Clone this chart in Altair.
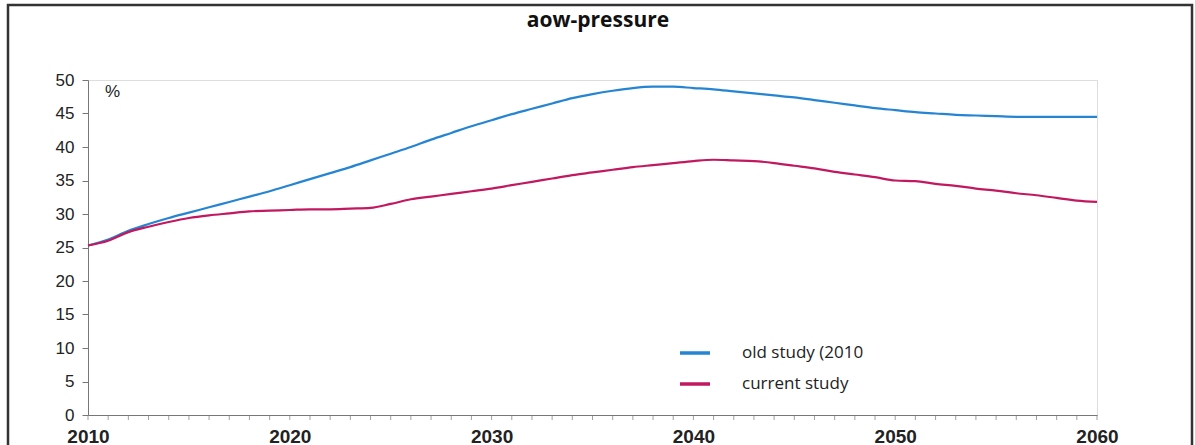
import altair as alt
import pandas as pd

# Years covered by both projections
years = list(range(2010, 2061))

# AOW pressure (%) — previous projection (2010)
old_study = [
    25.3, 26.2, 27.5, 28.5, 29.4, 30.2, 31.0, 31.8, 32.6, 33.4,
    34.3, 35.2, 36.1, 37.0, 38.0, 39.0, 40.0, 41.1, 42.1, 43.1,
    44.0, 44.9, 45.7, 46.5, 47.3, 47.9, 48.4, 48.8, 49.0, 49.0,
    48.8, 48.6, 48.3, 48.0, 47.7, 47.4, 47.0, 46.6, 46.2, 45.8,
    45.5, 45.2, 45.0, 44.8, 44.7, 44.6, 44.5, 44.5, 44.5, 44.5,
    44.5,
]

# AOW pressure (%) — current projection
current_study = [
    25.3, 26.0, 27.3, 28.1, 28.8, 29.4, 29.8, 30.1, 30.4, 30.5,
    30.6, 30.7, 30.7, 30.8, 30.9, 31.5, 32.2, 32.6, 33.0, 33.4,
    33.8, 34.3, 34.8, 35.3, 35.8, 36.2, 36.6, 37.0, 37.3, 37.6,
    37.9, 38.1, 38.0, 37.9, 37.6, 37.2, 36.8, 36.3, 35.9, 35.5,
    35.0, 34.9, 34.5, 34.2, 33.8, 33.5, 33.1, 32.8, 32.4, 32.0,
    31.8,
]

series_names = ["old study (2010", "current study"]
series_colors = ["#2585d2", "#c2185f"]

df = pd.concat([
    pd.DataFrame({"year": years, "value": old_study, "series": series_names[0]}),
    pd.DataFrame({"year": years, "value": current_study, "series": series_names[1]}),
])

W, H = 1009, 335
FONT = "Liberation Sans"

lines = alt.Chart(df).mark_line(strokeWidth=2.2, interpolate="monotone").encode(
    x=alt.X("year:Q",
            scale=alt.Scale(domain=[2010, 2060], nice=False),
            axis=alt.Axis(values=list(range(2010, 2061, 10)), title=None, format="d",
                          labelFontSize=19, labelColor="#222", labelFont=FONT,
                          labelFontWeight="bold", labelPadding=12,
                          labelFlush=False, labelOverlap=False,
                          grid=False, domainColor="#777", tickColor="#777",
                          tickSize=0)),
    y=alt.Y("value:Q",
            scale=alt.Scale(domain=[0, 50], nice=False),
            axis=alt.Axis(values=list(range(0, 51, 5)), title=None,
                          labelFontSize=17, labelColor="#222", labelFont=FONT,
                          labelPadding=8, grid=False, domainColor="#777",
                          tickColor="#777", tickSize=6)),
    color=alt.Color("series:N",
                    scale=alt.Scale(domain=series_names, range=series_colors),
                    sort=series_names,
                    legend=alt.Legend(orient="none", legendX=590, legendY=256,
                                      title=None, symbolType="stroke",
                                      symbolStrokeWidth=3.5, symbolSize=900,
                                      labelFontSize=17, labelFont="Open Sans",
                                      labelColor="#222", rowPadding=6,
                                      labelOffset=30)),
)

# Yearly minor ticks hanging below the x axis
tick_years = pd.DataFrame({"year": years})
minor_ticks = alt.Chart(tick_years).mark_tick(
    orient="vertical", size=5, thickness=1, color="#777"
).encode(x=alt.X("year:Q"), y=alt.value(H + 2.5))

# Unit label inside the plot
unit = alt.Chart(pd.DataFrame({"t": ["%"]})).mark_text(
    fontSize=17, font=FONT, color="#222", align="left", baseline="middle"
).encode(text="t:N", x=alt.value(17), y=alt.value(12))

# Chart heading
heading = alt.Chart(pd.DataFrame({"t": ["aow-pressure"]})).mark_text(
    fontSize=21, font="Open Sans", fontWeight="bold", color="#111",
    align="center", baseline="middle"
).encode(text="t:N", x=alt.value(510), y=alt.value(-59))

# Outer frame around the whole figure
frame = alt.Chart(pd.DataFrame({"t": [0]})).mark_rect(
    fill=None, stroke="#333", strokeWidth=2.5, clip=False
).encode(x=alt.value(-80), x2=alt.value(1104), y=alt.value(-75), y2=alt.value(400))

chart = alt.layer(frame, lines, minor_ticks, unit, heading).properties(
    width=W, height=H,
    autosize=alt.AutoSizeParams(type="none"),
    padding={"left": 88, "top": 80, "right": 98, "bottom": 30},
).configure_view(stroke=None).configure(background="white")

chart.save("out.html", embed_options={"renderer": "svg", "actions": False})
